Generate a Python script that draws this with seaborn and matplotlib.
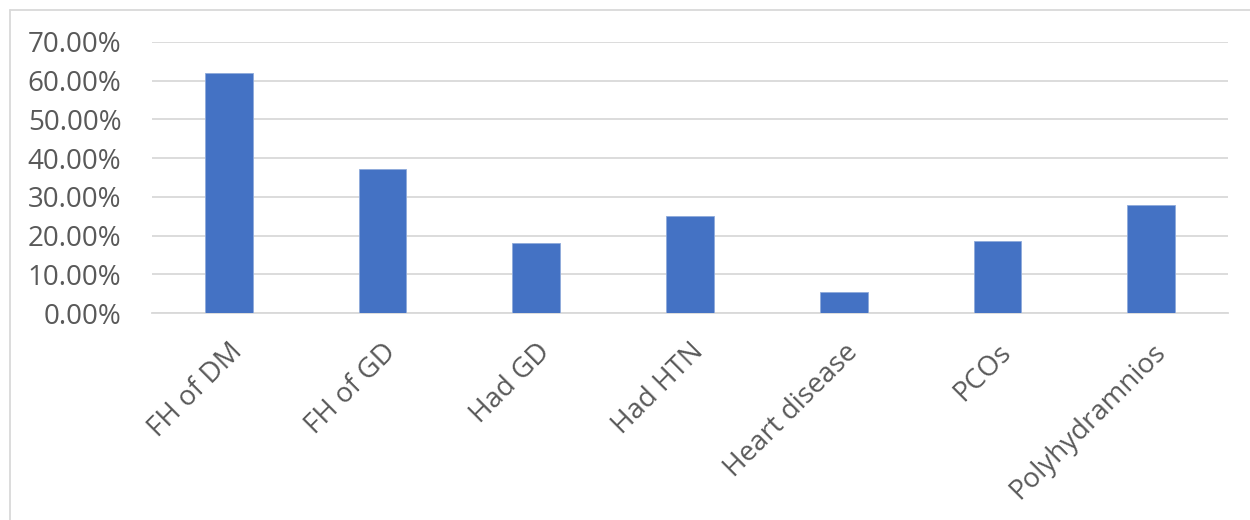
import pandas as pd
import matplotlib.pyplot as plt
import matplotlib.ticker as mtick
from matplotlib.lines import Line2D
import seaborn as sns

categories = ['FH of DM', 'FH of GD', 'Had GD', 'Had HTN', 'Heart disease', 'PCOs', 'Polyhydramnios']
percent = [62.1, 37.2, 18.2, 25.0, 5.3, 18.6, 27.9]

df = pd.DataFrame({'factor': categories, 'percent': percent})

sns.set_style('white')
plt.rcParams['font.family'] = ['Open Sans', 'DejaVu Sans']

fig = plt.figure(figsize=(12.5, 5.2), dpi=100)
ax = fig.add_axes([152 / 1250, 1 - 313 / 520, (1228 - 152) / 1250, (313 - 42) / 520])

sns.barplot(data=df, x='factor', y='percent', color='#4472C4', width=0.31,
            saturation=1, edgecolor='#8eaadb', linewidth=0.6, ax=ax, zorder=3)

ax.set_ylim(0, 70)
ax.set_yticks(range(0, 71, 10))
ax.yaxis.set_major_formatter(mtick.FuncFormatter(lambda v, p: f'{v:.2f}%'))
ax.grid(axis='y', color='#d9d9d9', linewidth=1.3, zorder=0)
ax.set_xlim(-0.5, len(categories) - 0.5)
for s in ['top', 'right', 'left']:
    ax.spines[s].set_visible(False)
ax.spines['bottom'].set_color('#d9d9d9')
ax.spines['bottom'].set_linewidth(1.3)
ax.set_xlabel('')
ax.set_ylabel('')
ax.tick_params(axis='both', length=0, labelsize=20, labelcolor='#595959')
ax.tick_params(axis='y', pad=22)
ax.tick_params(axis='x', pad=18)
plt.setp(ax.get_xticklabels(), rotation=45, ha='right', rotation_mode='anchor')

# outer chart border
fig.add_artist(Line2D([10 / 1250, 1], [1 - 10 / 520, 1 - 10 / 520], color='#d9d9d9', lw=1.3))
fig.add_artist(Line2D([10 / 1250, 10 / 1250], [0, 1 - 10 / 520], color='#d9d9d9', lw=1.3))

fig.savefig('out.png', dpi=100)
